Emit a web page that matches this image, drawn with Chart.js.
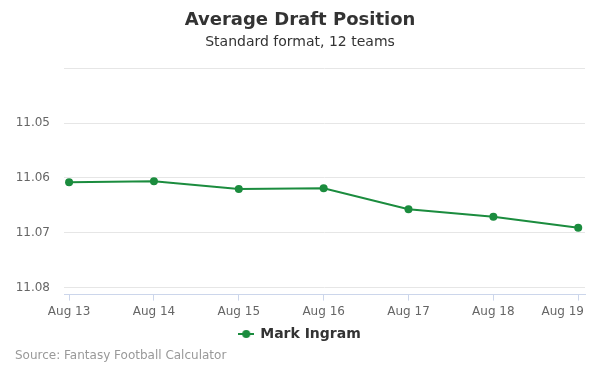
<!DOCTYPE html>
<html>
<head>
<meta charset="utf-8">
<script src="https://cdn.jsdelivr.net/npm/chart.js@4.4.0/dist/chart.umd.min.js"></script>
<style>
  html, body { margin: 0; padding: 0; background: #fff; }
  #wrap { position: relative; width: 600px; height: 375px; }
  #source {
    position: absolute; left: 15px; top: 348px;
    font: 12px "DejaVu Sans", sans-serif; color: #999999;
  }
</style>
</head>
<body>
<div id="wrap">
  <canvas id="adp-chart" width="600" height="375"></canvas>
  <div id="source">Source: Fantasy Football Calculator</div>
</div>
<script>
// Data
const dates = ['Aug 13', 'Aug 14', 'Aug 15', 'Aug 16', 'Aug 17', 'Aug 18', 'Aug 19'];
const adpValues = [11.0608, 11.0606, 11.0620, 11.0619, 11.0657, 11.0671, 11.0691];
const yTicks = [11.04, 11.05, 11.06, 11.07, 11.08];
const seriesName = 'Mark Ingram';

const green = '#1b8c3e';

// legend symbol: line with dot
const sym = document.createElement('canvas');
sym.width = 16; sym.height = 10;
const sctx = sym.getContext('2d');
sctx.strokeStyle = green; sctx.lineWidth = 2;
sctx.beginPath(); sctx.moveTo(0, 5); sctx.lineTo(16, 5); sctx.stroke();
sctx.fillStyle = green;
sctx.beginPath(); sctx.arc(8, 5, 4, 0, Math.PI * 2); sctx.fill();

// keep last x label inside the plot (right aligned to the edge)
const edgeLabel = {
  id: 'edgeLabel',
  beforeDraw(chart) {
    const items = chart.scales.x.getLabelItems();
    const last = items[items.length - 1];
    if (last) {
      last.options.textAlign = 'right';
      last.options.translation[0] = chart.chartArea.right - 1;
    }
  }
};

const points = adpValues.map((v, i) => ({ x: i, y: v }));

new Chart(document.getElementById('adp-chart').getContext('2d'), {
  type: 'line',
  data: {
    datasets: [{
      label: seriesName,
      data: points,
      borderColor: green,
      backgroundColor: green,
      borderWidth: 2,
      pointRadius: 4,
      pointHoverRadius: 4,
      pointBackgroundColor: green,
      pointBorderWidth: 0,
      tension: 0,
      fill: false
    }]
  },
  plugins: [edgeLabel],
  options: {
    responsive: false,
    animation: false,
    layout: { padding: { left: 15, right: 15, top: 0, bottom: 24 } },
    plugins: {
      tooltip: { enabled: false },
      title: {
        display: true,
        text: 'Average Draft Position',
        color: '#333333',
        font: { family: 'DejaVu Sans', size: 18, weight: 'bold' },
        padding: { top: 10, bottom: 2 }
      },
      subtitle: {
        display: true,
        text: 'Standard format, 12 teams',
        color: '#333333',
        font: { family: 'DejaVu Sans', size: 14 },
        padding: { top: 0, bottom: 18 }
      },
      legend: {
        position: 'bottom',
        labels: {
          color: '#333333',
          font: { family: 'DejaVu Sans', size: 14, weight: 'bold' },
          usePointStyle: true,
          padding: 4,
          generateLabels: chart => chart.data.datasets.map((ds, i) => ({
            text: ds.label,
            pointStyle: sym,
            fontColor: '#333333',
            datasetIndex: i,
            lineWidth: 0
          }))
        }
      }
    },
    scales: {
      x: {
        type: 'linear',
        min: -0.06,
        max: 6.08,
        afterBuildTicks: s => { s.ticks = dates.map((d, i) => ({ value: i })); },
        afterFit: s => { s.paddingLeft = 0; s.paddingRight = 0; },
        ticks: {
          color: '#666666',
          font: { family: 'DejaVu Sans', size: 12 },
          padding: 4,
          maxRotation: 0,
          callback: v => dates[v]
        },
        grid: {
          drawOnChartArea: false,
          drawTicks: true,
          tickLength: 6,
          color: '#ccd6eb'
        },
        border: { color: '#ccd6eb', width: 1 }
      },
      y: {
        reverse: true,
        min: 11.04,
        max: 11.0813,
        afterBuildTicks: s => { s.ticks = yTicks.map(v => ({ value: v })); },
        afterFit: s => { s.width = 49; },
        ticks: {
          color: '#666666',
          font: { family: 'DejaVu Sans', size: 12 },
          padding: 14,
          callback: v => (v === 11.04 ? '' : v.toFixed(2))
        },
        grid: { color: '#e6e6e6', drawTicks: false },
        border: { display: false }
      }
    }
  }
});
</script>
</body>
</html>
